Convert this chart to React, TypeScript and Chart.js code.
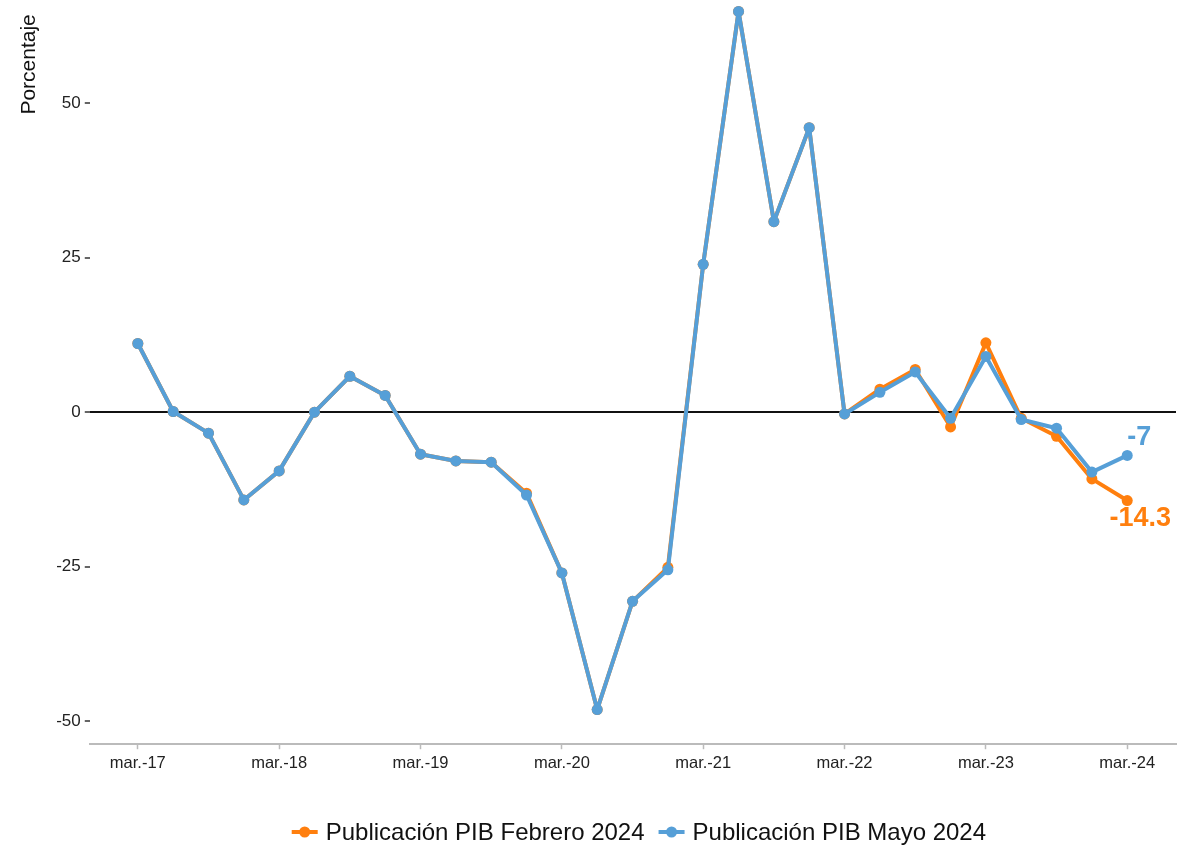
import React, { useEffect, useRef } from "react";
import { Chart, registerables } from "chart.js";

Chart.register(...registerables);

const quarters = [
  "mar.-17", "jun.-17", "sep.-17", "dic.-17",
  "mar.-18", "jun.-18", "sep.-18", "dic.-18",
  "mar.-19", "jun.-19", "sep.-19", "dic.-19",
  "mar.-20", "jun.-20", "sep.-20", "dic.-20",
  "mar.-21", "jun.-21", "sep.-21", "dic.-21",
  "mar.-22", "jun.-22", "sep.-22", "dic.-22",
  "mar.-23", "jun.-23", "sep.-23", "dic.-23",
  "mar.-24",
];

const febrero2024 = [
  11.1, 0.1, -3.4, -14.2,
  -9.5, 0.0, 5.8, 2.7,
  -6.8, -7.9, -8.1, -13.1,
  -26.0, -48.1, -30.6, -25.1,
  23.9, 64.8, 30.8, 46.0,
  -0.3, 3.7, 6.9, -2.4,
  11.2, -1.0, -3.9, -10.8,
  -14.3,
];

const mayo2024 = [
  11.1, 0.1, -3.4, -14.2,
  -9.5, 0.0, 5.8, 2.7,
  -6.8, -7.9, -8.1, -13.4,
  -26.0, -48.1, -30.6, -25.5,
  23.9, 64.8, 30.8, 46.0,
  -0.3, 3.2, 6.5, -1.0,
  9.0, -1.2, -2.6, -9.7,
  -7.0,
];

const seriesNames = ["Publicación PIB Febrero 2024", "Publicación PIB Mayo 2024"];
const xTickIndex = [0, 4, 8, 12, 16, 20, 24, 28];
const yTicks = [-50, -25, 0, 25, 50];
const endLabels = ["-14.3", "-7"];

const ORANGE = "#FF7F0E";
const BLUE = "#569FD7";
const FONT = "'Liberation Sans', Arial, sans-serif";

const endLabelPlugin = {
  id: "endLabels",
  afterDatasetsDraw(chart: any) {
    const ctx = chart.ctx;
    const xs = chart.scales.x;
    const ys = chart.scales.y;
    const last = quarters.length - 1;
    ctx.save();
    ctx.font = `bold 27px ${FONT}`;
    ctx.textAlign = "center";
    ctx.textBaseline = "middle";
    ctx.fillStyle = ORANGE;
    ctx.fillText(endLabels[0], xs.getPixelForValue(last) + 13, ys.getPixelForValue(febrero2024[last]) + 18);
    ctx.fillStyle = BLUE;
    ctx.fillText(endLabels[1], xs.getPixelForValue(last) + 12, ys.getPixelForValue(mayo2024[last]) - 18);
    ctx.restore();
  },
};

const customLegendPlugin = {
  id: "customLegend",
  afterDraw(chart: any) {
    const ctx = chart.ctx;
    const area = chart.chartArea;
    const colors = [ORANGE, BLUE];
    ctx.save();
    ctx.font = `24px ${FONT}`;
    ctx.textBaseline = "middle";
    ctx.textAlign = "left";
    const iconW = 26;
    const gap = 8;
    const itemGap = 14;
    const widths = seriesNames.map((n) => iconW + gap + ctx.measureText(n).width);
    const total = widths.reduce((a, b) => a + b, 0) + itemGap * (seriesNames.length - 1);
    let x = (area.left + area.right) / 2 + 6 - total / 2;
    const y = 832;
    seriesNames.forEach((n, i) => {
      ctx.strokeStyle = colors[i];
      ctx.fillStyle = colors[i];
      ctx.lineWidth = 4;
      ctx.beginPath();
      ctx.moveTo(x, y);
      ctx.lineTo(x + iconW, y);
      ctx.stroke();
      ctx.beginPath();
      ctx.arc(x + iconW / 2, y, 5.5, 0, Math.PI * 2);
      ctx.fill();
      ctx.fillStyle = "#111";
      ctx.fillText(n, x + iconW + gap, y + 1);
      x += widths[i] + itemGap;
    });
    ctx.restore();
  },
};

export default function App() {
  const ref = useRef<HTMLCanvasElement>(null);

  useEffect(() => {
    const chart = new Chart(ref.current!, {
      type: "line",
      data: {
        datasets: [
          {
            label: seriesNames[0],
            data: febrero2024.map((v, i) => ({ x: i, y: v })),
            borderColor: ORANGE,
            backgroundColor: ORANGE,
            borderWidth: 4,
            borderJoinStyle: "round",
            borderCapStyle: "round",
            pointRadius: 5.5,
            pointBorderWidth: 0,
            tension: 0,
            order: 2,
            clip: false,
          },
          {
            label: seriesNames[1],
            data: mayo2024.map((v, i) => ({ x: i, y: v })),
            borderColor: BLUE,
            backgroundColor: BLUE,
            borderWidth: 4,
            borderJoinStyle: "round",
            borderCapStyle: "round",
            pointRadius: 5.5,
            pointBorderWidth: 0,
            tension: 0,
            order: 1,
            clip: false,
          },
        ],
      },
      options: {
        animation: false,
        responsive: true,
        maintainAspectRatio: false,
        layout: { padding: { left: 11, right: 18, top: 0, bottom: 72 } },
        plugins: {
          tooltip: { enabled: false },
          legend: { display: false },
        },
        scales: {
          x: {
            type: "linear",
            min: -1.36,
            max: 29.38,
            afterBuildTicks: (axis: any) => {
              axis.ticks = xTickIndex.map((v) => ({ value: v }));
            },
            ticks: {
              autoSkip: false,
              maxRotation: 0,
              color: "#222",
              font: { family: FONT, size: 16.5 },
              padding: 4,
              callback: (v: any) => quarters[v as number] ?? "",
            },
            grid: {
              drawOnChartArea: false,
              drawTicks: true,
              tickLength: 5,
              tickColor: "#bbb",
              tickWidth: 1.5,
            },
            border: { display: true, color: "#bbb", width: 2 },
          },
          y: {
            min: -53.7,
            max: 64.35,
            afterBuildTicks: (axis: any) => {
              axis.ticks = yTicks.map((v) => ({ value: v }));
            },
            title: {
              display: true,
              text: "Porcentaje",
              align: "end",
              color: "#111",
              font: { family: FONT, size: 21 },
              padding: { top: 6, bottom: 10 },
            },
            ticks: {
              color: "#222",
              font: { family: FONT, size: 17 },
              padding: 4,
            },
            grid: {
              drawTicks: true,
              tickLength: 5,
              tickColor: "#333",
              tickWidth: 1.5,
              lineWidth: (c: any) => (c.tick && c.tick.value === 0 ? 2 : 0),
              color: (c: any) => (c.tick && c.tick.value === 0 ? "#111" : "rgba(0,0,0,0)"),
            },
            border: { display: false },
          },
        },
      },
      plugins: [endLabelPlugin, customLegendPlugin],
    } as any);
    return () => chart.destroy();
  }, []);

  return (
    <div style={{ position: "fixed", left: 0, top: 0, width: 1194, height: 849, background: "#fff" }}>
      <canvas ref={ref} />
    </div>
  );
}
